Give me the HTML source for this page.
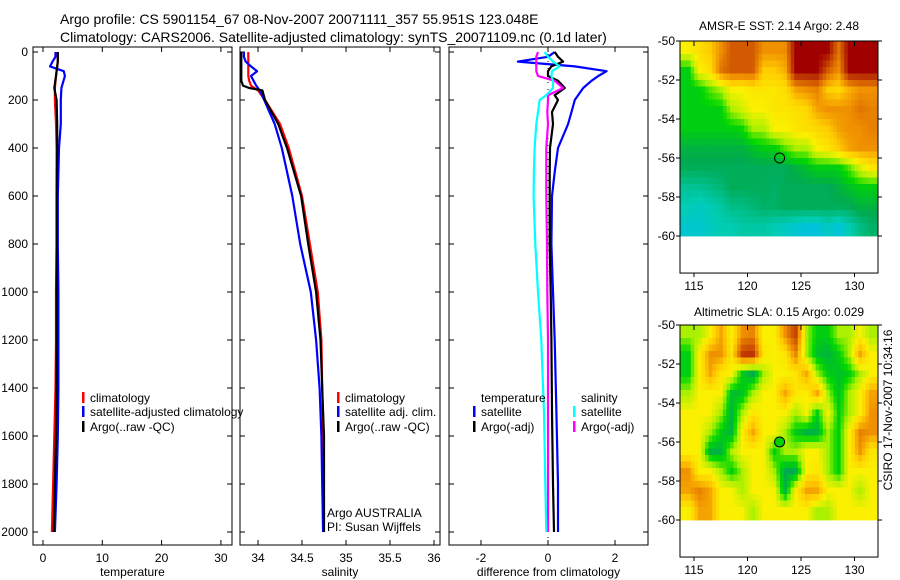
<!DOCTYPE html>
<html><head><meta charset="utf-8">
<style>
html,body{margin:0;padding:0;background:#fff;}
svg{display:block;font-family:"Liberation Sans",sans-serif;}
</style></head>
<body>
<svg id="fig" width="900" height="580" viewBox="0 0 900 580" xmlns="http://www.w3.org/2000/svg">
<text x="60" y="24" font-size="14">Argo profile: CS 5901154_67 08-Nov-2007 20071111_357 55.951S 123.048E</text>
<text x="60" y="42" font-size="14">Climatology: CARS2006. Satellite-adjusted climatology: synTS_20071109.nc (0.1d later)</text>
<text x="779" y="30" font-size="12" text-anchor="middle">AMSR-E SST: 2.14 Argo: 2.48</text>
<text x="779" y="316" font-size="12" text-anchor="middle">Altimetric SLA: 0.15 Argo: 0.029</text>
<text transform="translate(892,410) rotate(-90)" font-size="12" text-anchor="middle">CSIRO 17-Nov-2007 10:34:16</text>
<g id="g"></g>
</svg>
<script>
// ---- profile data ----
const tDepth = [0,20,40,60,80,100,150,200,300,400,600,800,1000,1200,1400,1600,1800,2000];
const tClim  = [2.5,2.5,2.5,2.4,2.3,2.2,2.0,2.0,2.2,2.3,2.3,2.3,2.2,2.2,2.1,1.9,1.7,1.5];
const tArgo  = [2.5,2.5,2.5,2.4,2.3,2.2,1.9,2.3,2.4,2.4,2.3,2.3,2.3,2.3,2.3,2.2,2.0,1.8];
const tSat   = [2.1,2.1,1.6,1.2,3.5,3.7,3.1,3.0,3.0,2.7,2.5,2.5,2.6,2.6,2.6,2.5,2.3,2.0];
const sDepth = [0,20,40,60,80,100,120,140,150,160,200,300,400,600,800,1000,1200,1400,1600,1800,2000];
const sClim  = [33.89,33.89,33.89,33.89,33.89,33.89,33.9,33.92,33.96,34.0,34.08,34.25,34.35,34.5,34.59,34.68,34.72,34.73,34.74,34.74,34.74];
const sArgo  = [33.81,33.81,33.81,33.81,33.81,33.81,33.81,33.83,33.9,34.05,34.08,34.23,34.33,34.49,34.57,34.66,34.71,34.73,34.75,34.75,34.75];
const sSat   = [33.84,33.84,33.86,33.92,33.99,33.92,33.95,33.98,34.0,34.02,34.07,34.19,34.27,34.39,34.48,34.6,34.66,34.7,34.72,34.73,34.74];
const dDepth = [0,20,40,60,80,100,120,150,180,200,250,300,400,500,600,800,1000,1200,1500,1800,2000];
const dTSat  = [0.2,0.0,-0.9,0.8,1.75,1.5,1.3,1.05,0.9,0.8,0.7,0.6,0.3,0.2,0.12,0.1,0.15,0.2,0.25,0.3,0.3];
const dTArgo = [0.2,0.3,0.45,0.1,0.0,0.0,0.3,0.5,0.2,0.3,0.12,0.15,0.06,0.05,0.05,0.05,0.08,0.1,0.12,0.15,0.18];
const dSSat  = [-0.1,0.0,0.15,0.35,0.12,0.1,0.15,0.15,-0.05,-0.25,-0.3,-0.35,-0.4,-0.42,-0.43,-0.38,-0.3,-0.2,-0.12,-0.08,-0.05];
const dSArgo = [-0.3,-0.35,-0.35,-0.35,-0.35,-0.3,0.2,0.45,0.0,0.0,-0.02,0.0,-0.05,-0.05,-0.05,-0.03,-0.02,0.0,0.0,0.0,0.0];
const depthTicks = [0,200,400,600,800,1000,1200,1400,1600,1800,2000];
const tTicks = [0,10,20,30];
const sTicks = [34,34.5,35,35.5,36];
const sTickLabels = ["34","34.5","35","35.5","36"];
const dTicks = [-2,0,2];
// ---- map data (rows lat -50..-60, cols lon 114..131), 0..100 colour index ----
const sstGrid = [
[55,60,65,75,85,85,85,75,75,75,100,100,100,100,80,100,100,100],
[33,55,60,80,85,85,85,65,65,70,100,100,100,85,75,100,100,100],
[33,33,40,45,55,55,58,58,58,60,72,75,78,65,62,70,75,75],
[33,33,33,33,45,50,55,55,58,58,60,62,72,75,75,75,80,78],
[33,33,33,33,33,35,45,45,55,55,58,60,62,65,72,75,75,78],
[27,27,27,27,27,27,30,33,33,40,45,45,55,58,65,72,75,75],
[24,24,24,24,24,24,24,24,24,24,27,30,33,33,33,40,50,58],
[16,16,18,20,24,24,24,24,22,24,24,24,24,24,27,30,33,33],
[12,10,12,14,18,18,20,22,22,24,24,24,24,24,24,24,27,27],
[8,8,10,12,12,14,14,14,12,10,8,6,6,10,6,12,18,22]];
const slaGrid = [
[45,45,55,72,55,75,78,55,55,75,90,45,33,33,45,45,55,45],
[33,55,75,75,58,90,92,58,55,58,78,45,30,27,33,45,72,55],
[33,55,72,58,55,33,25,45,55,55,58,72,45,33,30,33,45,55],
[45,55,55,55,30,30,45,55,55,72,58,55,72,45,30,45,55,72],
[55,55,55,45,27,45,58,55,55,55,45,55,33,55,33,45,55,75],
[55,55,45,33,27,55,72,55,55,45,33,27,27,45,33,55,78,75],
[55,55,27,27,45,55,55,55,33,45,45,55,55,45,33,55,75,58],
[75,55,55,45,33,45,55,55,45,25,25,55,58,45,33,55,55,55],
[72,78,72,55,55,45,55,55,55,27,55,72,72,55,55,55,45,55],
[55,72,72,55,55,55,45,55,55,55,55,55,45,45,55,55,55,55]];
const argoLon = 123.0, argoLat = -56.0;

const NS="http://www.w3.org/2000/svg";
const G=document.getElementById('g');
function el(tag,attrs,parent){const e=document.createElementNS(NS,tag);for(const k in attrs)e.setAttribute(k,attrs[k]);(parent||G).appendChild(e);return e;}
function txt(x,y,s,size,anchor,parent){const t=el('text',{x:x,y:y,'font-size':size,'text-anchor':anchor||'start'},parent);t.textContent=s;return t;}

const yD = d => 52 + d*0.24;
const PT=47, PB=545;
const panels = [
 {name:'temperature', x0:33, x1:232, fx:v=>43+5.93*v, ticks:tTicks, labels:tTicks.map(String), xlabel:'temperature'},
 {name:'salinity', x0:240, x1:440, fx:v=>258+88*(v-34), ticks:sTicks, labels:sTickLabels, xlabel:'salinity'},
 {name:'difference', x0:449, x1:648, fx:v=>548+33.5*v, ticks:dTicks, labels:dTicks.map(String), xlabel:'difference from climatology'}
];
panels.forEach((p,i)=>{
  const g=el('g',{});
  
  
  const fr=el('rect',{x:p.x0,y:PT,width:p.x1-p.x0,height:PB-PT,fill:'none',stroke:'#000','stroke-width':1},g);
  
  
  p.ticks.forEach((v,j)=>{
    const x=p.fx(v);
    el('line',{x1:x,x2:x,y1:PB,y2:PB-5,stroke:'#000'},g);
    el('line',{x1:x,x2:x,y1:PT,y2:PT+5,stroke:'#000'},g);
    const t=txt(x,562,p.labels[j],12,'middle',g);
    
    
  });
  depthTicks.forEach(d=>{
    const y=yD(d);
    el('line',{x1:p.x0,x2:p.x0+5,y1:y,y2:y,stroke:'#000'},g);
    el('line',{x1:p.x1,x2:p.x1-5,y1:y,y2:y,stroke:'#000'},g);
    if(i===0){
      const t=txt(28,y+4,String(d),12,'end',g);
      
      
    }
  });
  const xl=txt((p.x0+p.x1)/2,576,p.xlabel,12,'middle',g);
  
  
});
const zl=el('line',{x1:panels[2].fx(0),x2:panels[2].fx(0),y1:PT,y2:PB,stroke:'#000','stroke-dasharray':'1,6','stroke-width':1});



function profile(p,depths,vals,color,name){
  const pts=depths.map((d,i)=>p.fx(vals[i]).toFixed(1)+','+yD(d).toFixed(1)).join(' ');
  const l=el('polyline',{points:pts,fill:'none',stroke:color,'stroke-width':2.2,'stroke-linejoin':'round'});
  
  
}
profile(panels[0],tDepth,tClim,'#f00','temp-climatology-line');
profile(panels[0],tDepth,tSat,'#00f','temp-satellite-line');
profile(panels[0],tDepth,tArgo,'#000','temp-argo-line');
profile(panels[1],sDepth,sClim,'#f00','sal-climatology-line');
profile(panels[1],sDepth,sSat,'#00f','sal-satellite-line');
profile(panels[1],sDepth,sArgo,'#000','sal-argo-line');
profile(panels[2],dDepth,dTSat,'#00f','diff-temp-satellite-line');
profile(panels[2],dDepth,dTArgo,'#000','diff-temp-argo-line');
profile(panels[2],dDepth,dSArgo,'#f0f','diff-sal-argo-line');
profile(panels[2],dDepth,dSSat,'#0ff','diff-sal-satellite-line');

function legendEntry(x,y,color,label){
  const g=el('g',{});
  
  
  if(color) el('rect',{x:x,y:y-10,width:2.5,height:11,fill:color},g);
  txt(x+8,y,label,12,'start',g);
}
legendEntry(82,402,'#f00','climatology');
legendEntry(82,416,'#00f','satellite-adjusted climatology');
legendEntry(82,431,'#000','Argo(..raw -QC)');
legendEntry(337,402,'#f00','climatology');
legendEntry(337,416,'#00f','satellite adj. clim.');
legendEntry(337,431,'#000','Argo(..raw -QC)');
legendEntry(473,402,null,'temperature');
legendEntry(473,416,'#00f','satellite');
legendEntry(473,431,'#000','Argo(-adj)');
legendEntry(573,402,null,'salinity');
legendEntry(573,416,'#0ff','satellite');
legendEntry(573,431,'#f0f','Argo(-adj)');
const a1=txt(327,517,'Argo AUSTRALIA',12);  
const a2=txt(327,531,'PI: Susan Wijffels',12);  

// ---- maps ----
const cStops=[[0,[0,185,255]],[12,[0,205,180]],[25,[0,170,80]],[35,[0,215,0]],[45,[170,240,0]],[55,[250,240,0]],[65,[255,205,0]],[75,[240,145,0]],[85,[210,90,0]],[100,[160,0,0]]];
function cmap(v){
  for(let i=1;i<cStops.length;i++){
    if(v<=cStops[i][0]){const [a,ca]=cStops[i-1],[b,cb]=cStops[i];const f=(v-a)/(b-a);
      return 'rgb('+ca.map((c,k)=>Math.round(c+(cb[k]-c)*f)).join(',')+')';}
  }
  return 'rgb(160,0,0)';
}
function sample(grid,gx,gy){ // gx,gy in cell units, centers at i+0.5
  const R=grid.length,C=grid[0].length;
  let x=Math.min(Math.max(gx-0.5,0),C-1), y=Math.min(Math.max(gy-0.5,0),R-1);
  const x0=Math.floor(x),y0=Math.floor(y),x1=Math.min(x0+1,C-1),y1=Math.min(y0+1,R-1);
  const fx=x-x0,fy=y-y0;
  return grid[y0][x0]*(1-fx)*(1-fy)+grid[y0][x1]*fx*(1-fy)+grid[y1][x0]*(1-fx)*fy+grid[y1][x1]*fx*fy;
}
function drawMap(top,grid,name,dotFill){
  const X0=680,X1=878;
  const lx=lon=>694+(lon-115)*10.7;
  const ly=lat=>top+(-50-lat)*19.5;
  const bottom=ly(-61.9);
  const g=el('g',{});
  
  
  const S=3, lonMin=113.7, lonMax=132.2;
  const nx=Math.ceil((lonMax-lonMin)*S), ny=grid.length*S;
  for(let r=0;r<ny;r++){
    for(let c=0;c<nx;c++){
      const lon=lonMin+c/S, lonC=lon+0.5/S;
      const v=sample(grid,lonC-114,(r+0.5)/S);
      const xa=Math.max(X0,lx(lon)), xb=Math.min(X1,lx(lon+1/S));
      if(xb<=xa) continue;
      el('rect',{x:xa.toFixed(2),y:(ly(-50-r/S)).toFixed(2),width:(xb-xa+0.4).toFixed(2),height:(19.5/S+0.4).toFixed(2),fill:cmap(v)},g);
    }
  }
  el('rect',{x:X0,y:top,width:X1-X0,height:bottom-top,fill:'none',stroke:'#000'},g);
  [115,120,125,130].forEach(lon=>{
    const x=lx(lon);
    el('line',{x1:x,x2:x,y1:top,y2:top+5,stroke:'#000'},g);
    el('line',{x1:x,x2:x,y1:bottom,y2:bottom+4,stroke:'#000'},g);
    txt(x,bottom+17,String(lon),12,'middle',g);
  });
  [-50,-52,-54,-56,-58,-60].forEach(lat=>{
    const y=ly(lat);
    el('line',{x1:X0,x2:X0-4,y1:y,y2:y,stroke:'#000'},g);
    el('line',{x1:X1,x2:X1+4,y1:y,y2:y,stroke:'#000'},g);
    txt(675,y+4,String(lat),12,'end',g);
  });
  const m=el('circle',{cx:lx(argoLon),cy:ly(argoLat),r:5,fill:dotFill,stroke:'#000','stroke-width':1},g);
  
  
}
drawMap(41,sstGrid,'sst-map','none');
drawMap(325,slaGrid,'sla-map','#00d000');
</script>
</body></html>
